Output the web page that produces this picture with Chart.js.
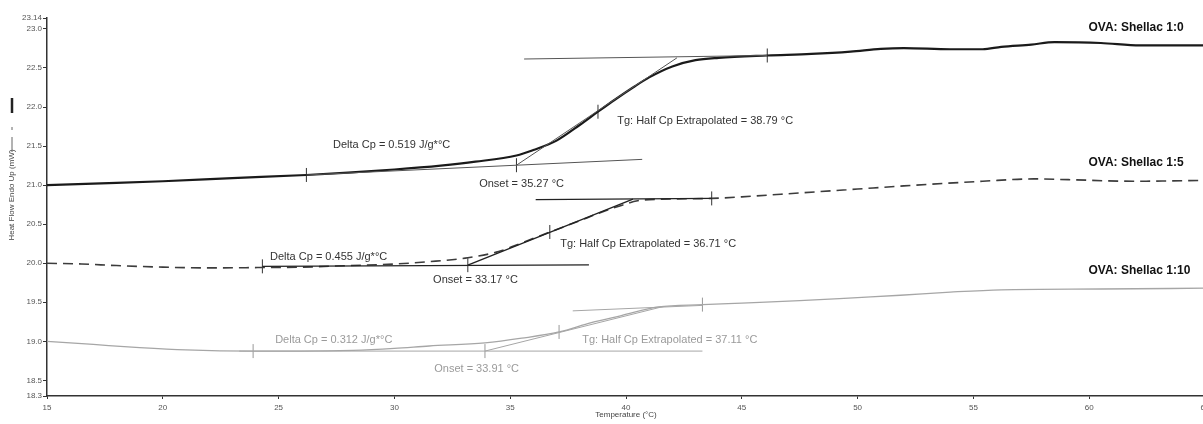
<!DOCTYPE html>
<html>
<head>
<meta charset="utf-8">
<script src="https://cdn.jsdelivr.net/npm/chart.js@4"></script>
<style>
  html, body { margin: 0; padding: 0; background: #fff; overflow: hidden; }
  #wrap { width: 1220px; height: 424px; }
</style>
</head>
<body>
<div id="wrap"><canvas id="dscChart" width="1220" height="424"></canvas></div>
<script>
// DSC heat flow traces, three OVA : shellac ratios
var temp1 = [15, 17, 20, 23, 26.2, 28, 30, 32, 33.5, 35.27, 36, 37, 38, 38.79, 39.5, 40.3, 41, 42, 43, 44, 46.1, 48, 49.7, 51, 52, 54, 55.4, 56.2, 57.5, 58.5, 60.5, 62.2, 65];
var flow1 = [21.0, 21.02, 21.05, 21.09, 21.13, 21.16, 21.2, 21.25, 21.3, 21.38, 21.45, 21.57, 21.77, 21.94, 22.09, 22.25, 22.38, 22.52, 22.6, 22.63, 22.66, 22.68, 22.71, 22.745, 22.755, 22.74, 22.74, 22.77, 22.8, 22.83, 22.82, 22.79, 22.79];

var temp2 = [15, 16.5, 18, 20, 22, 24.3, 26, 28, 30, 31.5, 33.17, 34.5, 35.5, 36.71, 37.8, 39, 39.8, 40.5, 41.5, 43.7, 45, 47.5, 50, 52, 55.4, 57.6, 59.1, 61.9, 65];
var flow2 = [20.0, 19.99, 19.97, 19.95, 19.94, 19.945, 19.95, 19.97, 19.99, 20.02, 20.07, 20.15, 20.26, 20.4, 20.52, 20.66, 20.74, 20.8, 20.82, 20.83, 20.85, 20.9, 20.95, 20.99, 21.05, 21.08, 21.07, 21.05, 21.06];

var temp3 = [15, 17, 19, 21, 23.9, 26, 28.2, 30, 31.5, 33.91, 35.5, 37.11, 38.5, 39.8, 41.4, 43.3, 45, 47.5, 50, 51.85, 54, 56.2, 60.5, 65];
var flow3 = [19.0, 18.96, 18.92, 18.89, 18.875, 18.875, 18.885, 18.91, 18.94, 18.98, 19.04, 19.12, 19.24, 19.33, 19.44, 19.47, 19.49, 19.52, 19.56, 19.59, 19.63, 19.66, 19.67, 19.68];

// tangent construction lines: [x0, y0, x1, y1]
var base1 = [26.2, 21.13, 40.7, 21.33];
var top1 = [35.6, 22.615, 46.1, 22.66];
var steep1 = [35.27, 21.255, 42.2, 22.63];
var base2 = [24.3, 19.96, 38.4, 19.98];
var top2 = [36.1, 20.815, 43.7, 20.83];
var steep2 = [33.17, 19.975, 40.3, 20.82];
var base3 = [23.3, 18.875, 43.3, 18.875];
var top3 = [37.7, 19.39, 43.3, 19.46];
var steep3 = [33.91, 18.875, 41.6, 19.445];

// analysis limits, onset, Tg
var markTemp1 = [26.2, 35.27, 38.79, 46.1];
var markFlow1 = [21.13, 21.255, 21.94, 22.66];
var markTemp2 = [24.3, 33.17, 36.71, 43.7];
var markFlow2 = [19.96, 19.975, 20.4, 20.83];
var markTemp3 = [23.9, 33.91, 37.11, 43.3];
var markFlow3 = [18.875, 18.875, 19.12, 19.47];

var seriesNames = ["OVA: Shellac 1:0", "OVA: Shellac 1:5", "OVA: Shellac 1:10"];
var deltaCp = ["0.519", "0.455", "0.312"];
var onsetT = ["35.27", "33.17", "33.91"];
var tgT = ["38.79", "36.71", "37.11"];

var yTicks = [18.3, 18.5, 19.0, 19.5, 20.0, 20.5, 21.0, 21.5, 22.0, 22.5, 23.0, 23.14];
var yTickLabels = ["18.3", "18.5", "19.0", "19.5", "20.0", "20.5", "21.0", "21.5", "22.0", "22.5", "23.0", "23.14"];
var xTicks = [15, 20, 25, 30, 35, 40, 45, 50, 55, 60, 65];

function pts(xs, ys) {
  return xs.map(function (x, i) { return { x: x, y: ys[i] }; });
}
function seg(s) {
  return [{ x: s[0], y: s[1] }, { x: s[2], y: s[3] }];
}

var dark = "#1a1a1a", mid = "#333333", light = "#a6a6a6";
var font = "'Liberation Sans', Arial, sans-serif";

function curve(data, color, width, dash) {
  return { data: data, borderColor: color, borderWidth: width, borderDash: dash || [],
    pointRadius: 0, cubicInterpolationMode: "monotone", fill: false };
}
function line(data, color, width) {
  return { data: data, borderColor: color, borderWidth: width, pointRadius: 0, tension: 0, fill: false };
}
function marks(data, color) {
  return { data: data, showLine: false, pointStyle: "line", rotation: 90, pointRadius: 7,
    pointBorderWidth: 1, pointBorderColor: color, borderColor: color };
}

// text placed at data coordinates: [text, x, y, colour, bold]
var notes = [
  ["Delta Cp = " + deltaCp[0] + " J/g*°C", 27.35, 21.52, mid],
  ["Tg: Half Cp Extrapolated = " + tgT[0] + " °C", 39.62, 21.82, mid],
  ["Onset = " + onsetT[0] + " °C", 33.66, 21.02, mid],
  ["Delta Cp = " + deltaCp[1] + " J/g*°C", 24.63, 20.085, mid],
  ["Tg: Half Cp Extrapolated = " + tgT[1] + " °C", 37.16, 20.25, mid],
  ["Onset = " + onsetT[1] + " °C", 31.67, 19.78, mid],
  ["Delta Cp = " + deltaCp[2] + " J/g*°C", 24.85, 19.02, "#9a9a9a"],
  ["Tg: Half Cp Extrapolated = " + tgT[2] + " °C", 38.11, 19.02, "#9a9a9a"],
  ["Onset = " + onsetT[2] + " °C", 31.72, 18.645, "#9a9a9a"],
  [seriesNames[0], 59.97, 23.02, "#111", true],
  [seriesNames[1], 59.97, 21.29, "#111", true],
  [seriesNames[2], 59.97, 19.91, "#111", true]
];

var textPlugin = {
  id: "dscText",
  afterDatasetsDraw: function (chart) {
    var c = chart.ctx, xs = chart.scales.x, ys = chart.scales.y;
    c.save();
    c.textBaseline = "middle";
    c.textAlign = "left";
    notes.forEach(function (n) {
      c.font = (n[4] ? "bold 12px " : "11px ") + font;
      c.fillStyle = n[3];
      c.fillText(n[0], xs.getPixelForValue(n[1]), ys.getPixelForValue(n[2]));
    });
    // axis titles
    c.fillStyle = "#444";
    c.font = "8px " + font;
    c.textAlign = "center";
    c.fillText("Temperature (°C)", xs.getPixelForValue(40), 415);
    c.translate(12, 195);
    c.rotate(-Math.PI / 2);
    c.fillText("Heat Flow Endo Up (mW)", 0, 0);
    // line sample after the title
    c.strokeStyle = "#666";
    c.lineWidth = 1;
    c.beginPath();
    c.moveTo(43, 0); c.lineTo(58, 0);
    c.moveTo(65, 0); c.lineTo(68, 0);
    c.stroke();
    c.strokeStyle = "#222";
    c.lineWidth = 2.5;
    c.beginPath();
    c.moveTo(82, 0); c.lineTo(97, 0);
    c.stroke();
    c.restore();
  }
};

var ctx = document.getElementById("dscChart").getContext("2d");
var dscChart = new Chart(ctx, {
  type: "line",
  data: {
    datasets: [
      line(seg(base1), "#555", 1), line(seg(top1), "#555", 1), line(seg(steep1), "#555", 1),
      line(seg(base2), "#222", 1.3), line(seg(top2), "#222", 1.3), line(seg(steep2), "#222", 1.3),
      line(seg(base3), light, 1), line(seg(top3), light, 1), line(seg(steep3), light, 1),
      curve(pts(temp3, flow3), light, 1.3),
      curve(pts(temp2, flow2), "#3c3c3c", 1.6, [10, 6]),
      curve(pts(temp1, flow1), dark, 2.2),
      marks(pts(markTemp1, markFlow1), "#333"),
      marks(pts(markTemp2, markFlow2), "#333"),
      marks(pts(markTemp3, markFlow3), "#999")
    ]
  },
  options: {
    responsive: false,
    animation: false,
    devicePixelRatio: 1,
    layout: { padding: { top: 18, right: 15, left: 0, bottom: 0 } },
    plugins: { legend: { display: false }, tooltip: { enabled: false } },
    scales: {
      x: {
        type: "linear",
        min: 15,
        max: 65,
        afterBuildTicks: function (s) { s.ticks = xTicks.map(function (v) { return { value: v }; }); },
        afterFit: function (s) { s.height = 28; },
        grid: { drawOnChartArea: false, drawTicks: true, tickLength: 3, color: "#333" },
        border: { display: true, color: "#333", width: 1.5 },
        ticks: { color: "#555", font: { family: font, size: 8 }, padding: 4, maxRotation: 0 }
      },
      y: {
        min: 18.3,
        max: 23.14,
        afterBuildTicks: function (s) { s.ticks = yTicks.map(function (v) { return { value: v }; }); },
        afterFit: function (s) { s.width = 47; },
        grid: { drawOnChartArea: false, drawTicks: true, tickLength: 4, color: "#333" },
        border: { display: true, color: "#333", width: 1.5 },
        ticks: {
          color: "#555",
          font: { family: font, size: 8 },
          padding: 1,
          callback: function (v, i) { return yTickLabels[i]; }
        }
      }
    }
  },
  plugins: [textPlugin]
});
</script>
</body>
</html>
